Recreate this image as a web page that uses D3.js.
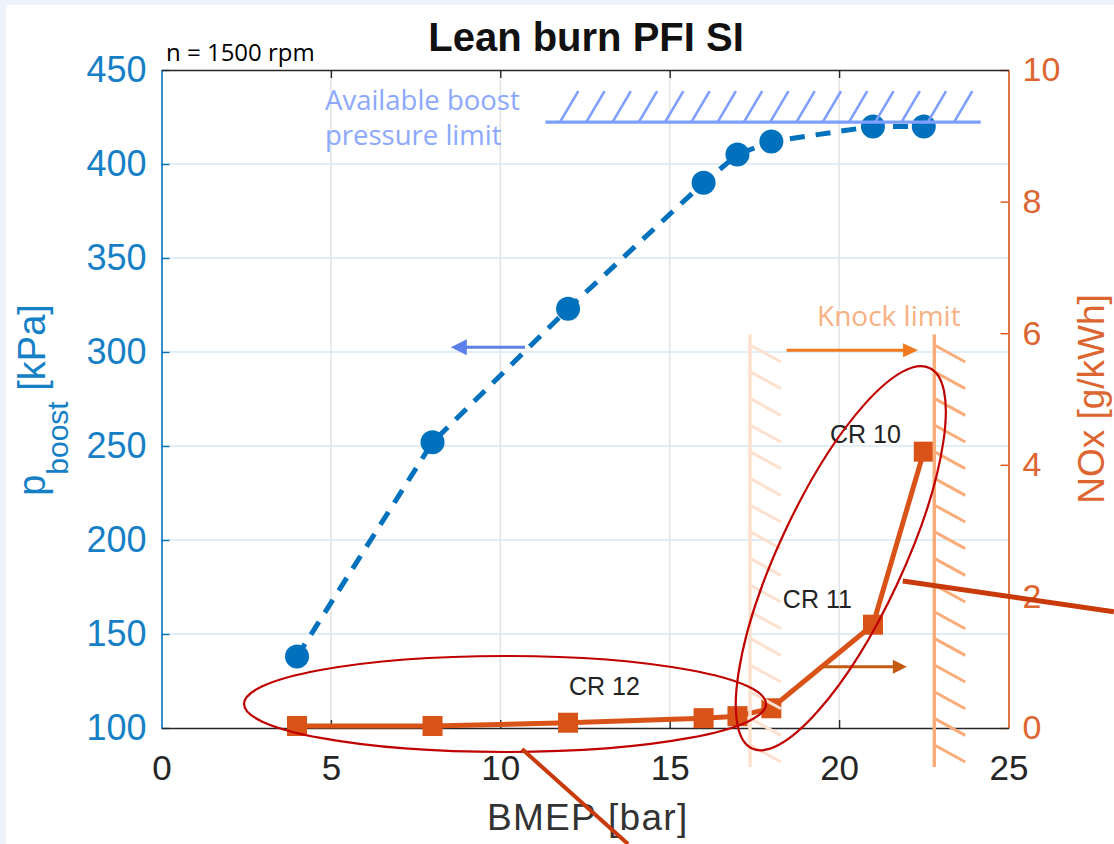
<!DOCTYPE html>
<html><head><meta charset="utf-8">
<script src="https://cdn.jsdelivr.net/npm/d3@7"></script>
<style>body{margin:0;overflow:hidden;background:#fff}</style>
</head><body><svg id="c" width="1114" height="844"></svg>
<script>
// ---- data ----
const bmep  = [4, 8, 12, 16, 17, 18, 21, 22.5];
const boost = [138, 252, 323, 390, 405, 412, 420, 420];
const nox   = [0.03, 0.03, 0.08, 0.15, 0.18, 0.30, 1.57, 4.2];
const xTicks = [0, 5, 10, 15, 20, 25];
const boostTicks = [100, 150, 200, 250, 300, 350, 400, 450];
const noxTicks = [0, 2, 4, 6, 8, 10];
const crNames = ["CR 12", "CR 11", "CR 10"];
const crX = [12.03, 18.34, 19.73];
const crY = [0.50, 1.82, 4.33];

// ---- scales ----
const svg = d3.select("#c");
const x  = d3.scaleLinear().domain([0, 25]).range([161.5, 1008.5]);
const yL = d3.scaleLinear().domain([100, 450]).range([728, 70]);
const yR = d3.scaleLinear().domain([0, 10]).range([728, 70]);

const BLUE = "#0072BD", ORANGE = "#D95319";
const SANS = "'Liberation Sans', Arial, Helvetica, sans-serif";
const NOTE = "'Open Sans', 'Noto Sans', sans-serif";

// background
svg.append("rect").attr("width", 1114).attr("height", 844).attr("fill", "#EEF2FA");
svg.append("rect").attr("x", 6).attr("y", 5).attr("width", 1108).attr("height", 839).attr("fill", "#fff");

// grid
const g = svg.append("g");
g.selectAll(".vg").data(xTicks.slice(1, -1)).join("line")
  .attr("x1", d => x(d)).attr("x2", d => x(d)).attr("y1", yL(450)).attr("y2", yL(100))
  .attr("stroke", "#e3e3e3").attr("stroke-width", 1.5);
g.selectAll(".hg").data(boostTicks.slice(1, -1)).join("line")
  .attr("y1", d => yL(d)).attr("y2", d => yL(d)).attr("x1", x(0)).attr("x2", x(25))
  .attr("stroke", "#d8e9f5").attr("stroke-width", 1.5);

// titles / notes
svg.append("text").attr("x", 586).attr("y", 51).attr("text-anchor", "middle")
  .style("font", `bold 40px ${SANS}`).attr("fill", "#111").text("Lean burn PFI SI");
svg.append("text").attr("x", 166).attr("y", 61)
  .style("font", `24px ${NOTE}`).attr("fill", "#000").text("n = 1500 rpm");

// axes
function styleAxis(sel, color, fs, tcolor) {
  sel.select(".domain").attr("stroke", color).attr("stroke-width", 1.6);
  sel.selectAll(".tick line").attr("stroke", color).attr("stroke-width", 1.4);
  sel.selectAll(".tick text").attr("fill", tcolor || color).style("font", `${fs}px ${SANS}`);
}
const axL = svg.append("g").attr("transform", `translate(${x(0)},0)`)
  .call(d3.axisLeft(yL).tickValues(boostTicks).tickSize(-8).tickSizeOuter(0).tickPadding(15));
styleAxis(axL, BLUE, 36, "#1580C6");
const axR = svg.append("g").attr("transform", `translate(${x(25)},0)`)
  .call(d3.axisRight(yR).tickValues(noxTicks).tickSize(-8).tickSizeOuter(0).tickPadding(14));
styleAxis(axR, ORANGE, 34, "#DD6530");
const axB = svg.append("g").attr("transform", `translate(0,${yL(100)})`)
  .call(d3.axisBottom(x).tickValues(xTicks).tickSize(-8).tickSizeOuter(0).tickPadding(27));
styleAxis(axB, "#262626", 35);
axB.selectAll(".tick").filter(d => d === 0 || d === 25).select("line").remove();
const axT = svg.append("g").attr("transform", `translate(0,${yL(450)})`)
  .call(d3.axisTop(x).tickValues(xTicks).tickSize(-8).tickSizeOuter(0).tickFormat(""));
styleAxis(axT, "#262626", 35);
axT.selectAll(".tick").filter(d => d === 0 || d === 25).select("line").remove();
axL.select(".domain").raise();
axR.select(".domain").raise();

// axis labels
svg.append("text").attr("x", 487).attr("y", 830).attr("text-anchor", "start")
  .style("font", `37px ${SANS}`).style("letter-spacing", "1.3px").attr("fill", "#333").text("BMEP [bar]");
const ylab = svg.append("text").attr("transform", "translate(45,400) rotate(-90)")
  .attr("text-anchor", "middle").attr("fill", "#1580C6").style("font", `38px ${SANS}`);
ylab.append("tspan").text("p");
ylab.append("tspan").attr("dy", 23).style("font-size", "30px").text("boost");
ylab.append("tspan").attr("dy", -23).text(" [kPa]");
svg.append("text").attr("transform", "translate(1104,399) rotate(-90)")
  .attr("text-anchor", "middle").attr("fill", "#DD6530").style("font", `37px ${SANS}`).text("NOx [g/kWh]");

// blue series
const ptsB = bmep.map((d, i) => [x(d), yL(boost[i])]);
svg.append("path").attr("d", d3.line()(ptsB)).attr("fill", "none")
  .attr("stroke", BLUE).attr("stroke-width", 5).attr("stroke-dasharray", "15,11");
svg.selectAll(".cb").data(ptsB).join("circle")
  .attr("cx", d => d[0]).attr("cy", d => d[1]).attr("r", 12).attr("fill", BLUE);

// orange series
const ptsO = bmep.map((d, i) => [x(d), yR(nox[i])]);
svg.append("path").attr("d", d3.line()(ptsO)).attr("fill", "none")
  .attr("stroke", ORANGE).attr("stroke-width", 5);
svg.selectAll(".sq").data(ptsO).join("rect")
  .attr("x", d => d[0] - 10).attr("y", d => d[1] - 10).attr("width", 20).attr("height", 20).attr("fill", ORANGE);

// boost pressure limit
const limY = yL(422.3), limTop = yL(438.8);
svg.append("line").attr("x1", x(11.33)).attr("x2", x(24.18)).attr("y1", limY).attr("y2", limY)
  .attr("stroke", "#7F9FFF").attr("stroke-width", 3.2);
svg.selectAll(".bh").data(d3.range(16)).join("line")
  .attr("x1", k => 560 + k * 26.27).attr("y1", limY)
  .attr("x2", k => 560 + k * 26.27 + 18.3).attr("y2", limTop)
  .attr("stroke", "#7F9FFF").attr("stroke-width", 2.6);
const bt = svg.append("text").attr("fill", "#8CA8FF").style("font", `27.5px ${NOTE}`);
bt.append("tspan").attr("x", 325).attr("y", 110).text("Available boost");
bt.append("tspan").attr("x", 325).attr("y", 145).text("pressure limit");

// knock limit lines
function knock(xv, color) {
  const xp = x(xv);
  svg.append("line").attr("x1", xp).attr("x2", xp).attr("y1", yR(5.98)).attr("y2", 767)
    .attr("stroke", color).attr("stroke-width", 3.5);
  svg.selectAll(null).data(d3.range(16)).join("line")
    .attr("x1", xp).attr("y1", k => 345 + k * 26.67)
    .attr("x2", xp + 31).attr("y2", k => 345 + k * 26.67 + 17)
    .attr("stroke", color).attr("stroke-width", 3);
}
knock(17.37, "#FDE1CE");
knock(22.81, "#F8AC7A");
svg.append("text").attr("x", 817).attr("y", 326).attr("fill", "#F8B184")
  .style("font", `28px ${NOTE}`).text("Knock limit");

// arrows
function arrow(x1, x2, y, color, w, hl, hw) {
  const dir = Math.sign(x2 - x1);
  svg.append("line").attr("x1", x1).attr("x2", x2 - dir * hl * 0.8).attr("y1", y).attr("y2", y)
    .attr("stroke", color).attr("stroke-width", w);
  svg.append("path").attr("d", `M${x2},${y} L${x2 - dir * hl},${y - hw} L${x2 - dir * hl},${y + hw} Z`).attr("fill", color);
}
arrow(x(18.45), x(22.33), yR(5.74), "#F27A1E", 3, 15, 7);
arrow(x(19.52), x(22.0), yR(0.93), "#C55A11", 3, 14, 7);
arrow(x(10.73), x(8.54), yL(302.5), "#5B80E8", 3, 16, 8);

// CR labels
svg.selectAll(".cr").data(crNames).join("text")
  .attr("x", (d, i) => x(crX[i])).attr("y", (d, i) => yR(crY[i]))
  .style("font", `25px ${SANS}`).attr("fill", "#222").text(d => d);

// ellipses
svg.append("ellipse").attr("cx", x(10.14)).attr("cy", yR(0.365)).attr("rx", 261).attr("ry", 48)
  .attr("fill", "none").attr("stroke", "#C00000").attr("stroke-width", 2.2);
svg.append("ellipse").attr("transform", `translate(${x(20.05)},${yR(2.58)}) rotate(-65)`)
  .attr("rx", 210).attr("ry", 62).attr("fill", "none").attr("stroke", "#C00000").attr("stroke-width", 2.2);

// callout lines
svg.append("line").attr("x1", x(21.88)).attr("y1", yR(2.234)).attr("x2", x(28.11)).attr("y2", yR(1.767))
  .attr("stroke", "#C93A0A").attr("stroke-width", 5);
svg.append("line").attr("x1", x(10.64)).attr("y1", yR(-0.319)).attr("x2", x(13.77)).attr("y2", yR(-1.763))
  .attr("stroke", "#C93A0A").attr("stroke-width", 4);
</script></body></html>
